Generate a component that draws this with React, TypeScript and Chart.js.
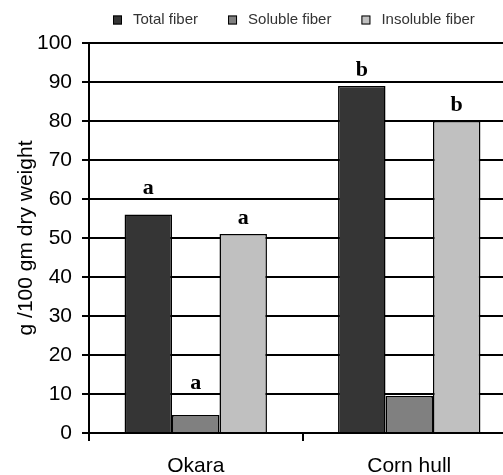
import React, { useEffect, useRef } from "react";
import { Chart, registerables } from "chart.js";

Chart.register(...registerables);

const categories = ["Okara", "Corn hull"];
const seriesNames = ["Total fiber", "Soluble fiber", "Insoluble fiber"];
const totalFiber = [56, 89];
const solubleFiber = [4.6, 9.5];
const insolubleFiber = [51, 80];
const totalLetters = ["a", "b"];
const solubleLetters = ["a", ""];
const insolubleLetters = ["a", "b"];
const yTickMin = 0;
const yTickMax = 100;
const yTickStep = 10;
const yTitle = "g /100 gm dry weight";

// styling (not data)
const seriesColors = ["#353535", "#808080", "#c0c0c0"];
const letterLift = [
  [21, 10],
  [26, 0],
  [10, 10],
];

const SANS = "'Liberation Sans', Arial, sans-serif";
const SERIF = "'Liberation Serif', 'Times New Roman', serif";

const letterPlugin = {
  id: "letters",
  afterDatasetsDraw(chart: any) {
    const ctx = chart.ctx;
    const letters = [totalLetters, solubleLetters, insolubleLetters];
    ctx.save();
    ctx.font = `bold 22px ${SERIF}`;
    ctx.fillStyle = "#000";
    ctx.textAlign = "center";
    ctx.textBaseline = "alphabetic";
    chart.data.datasets.forEach((ds: any, i: number) => {
      const meta = chart.getDatasetMeta(i);
      meta.data.forEach((el: any, j: number) => {
        const t = letters[i][j];
        if (!t) return;
        ctx.fillText(t, el.x, el.y - letterLift[i][j]);
      });
    });
    ctx.restore();
  },
};

const legendPlugin = {
  id: "customLegend",
  afterDraw(chart: any) {
    const ctx = chart.ctx;
    ctx.save();
    ctx.font = `15px ${SANS}`;
    ctx.textBaseline = "middle";
    ctx.textAlign = "left";
    let x = 113;
    const yMid = 20;
    const box = 9;
    chart.data.datasets.forEach((ds: any) => {
      ctx.fillStyle = ds.backgroundColor;
      ctx.fillRect(x, yMid - box / 2, box, box);
      ctx.strokeStyle = "#000";
      ctx.lineWidth = 1;
      ctx.strokeRect(x + 0.5, yMid - box / 2 + 0.5, box - 1, box - 1);
      x += box + 11;
      ctx.fillStyle = "#333";
      ctx.fillText(ds.label, x, yMid);
      x += ctx.measureText(ds.label).width + 30;
    });
    ctx.restore();
  },
};

export default function App() {
  const ref = useRef<HTMLCanvasElement | null>(null);
  useEffect(() => {
    if (!ref.current) return;
    const values = [totalFiber, solubleFiber, insolubleFiber];
    const chart = new Chart(ref.current, {
      type: "bar",
      data: {
        labels: categories,
        datasets: seriesNames.map((name, i) => ({
          label: name,
          data: values[i],
          backgroundColor: seriesColors[i],
          borderColor: "#000",
          borderWidth: 1.5,
          categoryPercentage: 0.667,
          barPercentage: 1.0,
        })),
      },
      options: {
        responsive: false,
        animation: false,
        devicePixelRatio: 1,
        layout: { padding: { top: 43, left: 0, right: 0, bottom: 0 } },
        plugins: {
          legend: { display: false },
          tooltip: { enabled: false },
        },
        scales: {
          x: {
            offset: true,
            grid: {
              display: true,
              drawOnChartArea: false,
              color: "#000",
              lineWidth: 2,
              tickLength: 8,
              offset: true,
            },
            border: { display: true, color: "#000", width: 2 },
            ticks: {
              font: { family: SANS, size: 21 },
              color: "#000",
              padding: 13,
            },
            afterFit(scale: any) {
              scale.height = 42;
            },
          },
          y: {
            min: yTickMin,
            max: yTickMax,
            ticks: {
              stepSize: yTickStep,
              font: { family: SANS, size: 21 },
              color: "#000",
              padding: 10,
            },
            grid: {
              color: "#000",
              lineWidth: 2,
              tickLength: 7,
            },
            border: { display: true, color: "#000", width: 2 },
            title: {
              display: true,
              text: yTitle,
              font: { family: SANS, size: 21 },
              color: "#000",
              padding: { top: 14, bottom: 0 },
            },
            afterFit(scale: any) {
              scale.width = 89;
            },
          },
        },
      },
      plugins: [letterPlugin, legendPlugin],
    });
    return () => chart.destroy();
  }, []);

  return (
    <div
      style={{
        position: "absolute",
        left: 0,
        top: 0,
        width: 503,
        height: 475,
        overflow: "hidden",
        background: "#fff",
      }}
    >
      <canvas ref={ref} width={516} height={475} style={{ display: "block" }} />
    </div>
  );
}
